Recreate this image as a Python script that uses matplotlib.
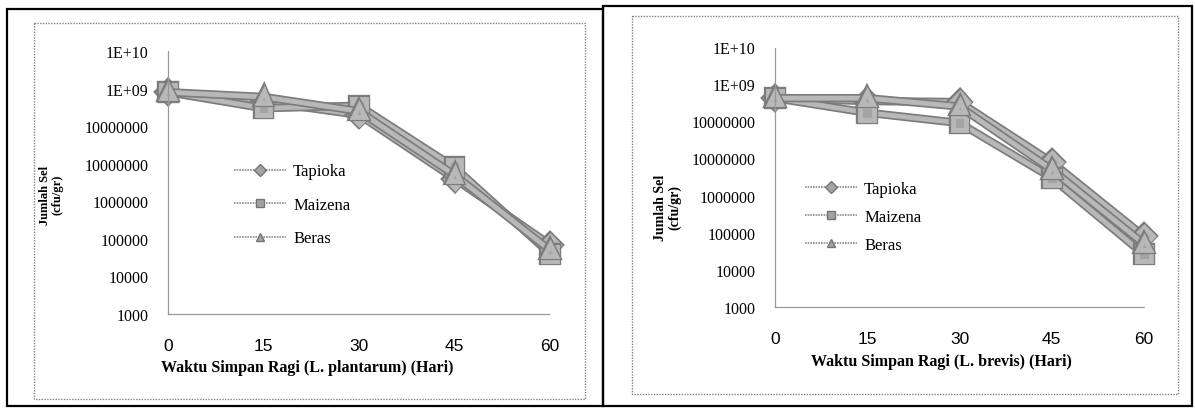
import matplotlib
matplotlib.use("Agg")
import matplotlib.pyplot as plt
import matplotlib.patheffects as pe
from matplotlib.lines import Line2D
from matplotlib.patches import Rectangle

# ---------------- data ----------------
days = [0, 15, 30, 45, 60]
series_names = ["Tapioka", "Maizena", "Beras"]

# L. plantarum (left panel)
tapioka_plantarum = [8.0e8, 4.5e8, 2.0e8, 4.0e6, 7.0e4]
maizena_plantarum = [8.0e8, 3.0e8, 3.5e8, 8.0e6, 4.0e4]
beras_plantarum = [8.0e8, 6.0e8, 2.5e8, 5.0e6, 5.0e4]

# L. brevis (right panel)
tapioka_brevis = [4.2e8, 3.5e8, 3.3e8, 8.0e6, 8.0e4]
maizena_brevis = [4.2e8, 1.7e8, 9.0e7, 3.0e6, 2.6e4]
beras_brevis = [4.2e8, 4.2e8, 2.5e8, 5.0e6, 5.0e4]

y_ticks = [1e3, 1e4, 1e5, 1e6, 1e7, 1e8, 1e9, 1e10]
y_tick_labels = ["1000", "10000", "100000", "1000000", "10000000",
                 "10000000", "1E+09", "1E+10"]
x_tick_labels = ["0", "15", "30", "45", "60"]

xlabel_left = "Waktu Simpan Ragi (L. plantarum) (Hari)"
xlabel_right = "Waktu Simpan Ragi (L. brevis) (Hari)"
ylabel_text = "Jumlah Sel\n(cfu/gr)"

# ---------------- figure ----------------
W, H = 1195, 410
fig = plt.figure(figsize=(W / 100, H / 100), dpi=100)
fig.patch.set_facecolor("white")

SERIF = "Liberation Serif"
SANS = "Liberation Sans"


def px_axes(x0, y0, x1, y1):
    return fig.add_axes([x0 / W, 1 - y1 / H, (x1 - x0) / W, (y1 - y0) / H])


# overlay for frames
ov = fig.add_axes([0, 0, 1, 1], zorder=-5)
ov.set_xlim(0, W)
ov.set_ylim(H, 0)
ov.axis("off")
# outer black frames
ov.add_patch(Rectangle((7, 10), 596, 397, fill=False, ec="black", lw=1.6))
ov.add_patch(Rectangle((603, 7), 589, 400, fill=False, ec="black", lw=1.6))
# inner dotted chart-area borders
ov.add_patch(Rectangle((34, 24), 551, 376, fill=False, ec="#808080",
                       lw=1.0, ls=(0, (1, 1))))
ov.add_patch(Rectangle((632, 17), 546, 378, fill=False, ec="#808080",
                       lw=1.0, ls=(0, (1, 1))))

markers = ["D", "s", "^"]
marker_sizes = [9, 10, 8.5]
line_fx = [pe.Stroke(linewidth=6, foreground="#7c7c7c"),
           pe.Stroke(linewidth=3.5, foreground="#b8b8b8")]


def draw_panel(ax, data, xlabel, xlabel_cx, ylab_xy, ylab_fs, leg_anchor,
               leg_spacing, ypad, xpad, xlab_y):
    for vals, m, ms, name in zip(data, markers, marker_sizes, series_names):
        ax.plot(days, vals, color="#a8a8a8", lw=5, marker=m, ms=ms,
                mfc="#a4a4a4", mec="#747474", mew=1.0,
                path_effects=line_fx, solid_capstyle="round",
                solid_joinstyle="round", clip_on=False)
    ax.set_yscale("log")
    ax.set_ylim(1e3, 1e10)
    ax.set_xlim(0, 60)
    ax.set_yticks(y_ticks)
    ax.set_yticklabels(y_tick_labels, fontfamily=SERIF, fontsize=11.5)
    ax.minorticks_off()
    ax.set_xticks(days)
    ax.set_xticklabels(x_tick_labels, fontfamily=SANS, fontsize=12.5)
    ax.tick_params(axis="both", length=0)
    ax.tick_params(axis="y", pad=ypad)
    ax.tick_params(axis="x", pad=xpad)
    for s in ["top", "right"]:
        ax.spines[s].set_visible(False)
    for s in ["left", "bottom"]:
        ax.spines[s].set_color("#999999")
        ax.spines[s].set_linewidth(0.9)
        ax.spines[s].set_linestyle((0, (1, 1)))
    ax.set_facecolor("none")
    fig.text(xlabel_cx / W, 1 - xlab_y / H, xlabel, ha="center",
             va="center", fontfamily=SERIF, fontweight="bold", fontsize=11.5)
    fig.text(ylab_xy[0] / W, 1 - ylab_xy[1] / H, ylabel_text, rotation=90,
             ha="center", va="center", fontfamily=SERIF, fontweight="bold",
             fontsize=ylab_fs, multialignment="center", linespacing=1.1)
    handles = [Line2D([], [], color="#8c8c8c", lw=1.2, ls=(0, (1, 0.6)),
                      marker=m, ms=6, mfc="#a4a4a4", mec="#747474")
               for m in markers]
    ax.legend(handles, series_names, loc="center left",
              bbox_to_anchor=(leg_anchor[0] / W, 1 - leg_anchor[1] / H),
              bbox_transform=fig.transFigure, frameon=False,
              prop={"family": SERIF, "size": 12}, handlelength=3.1,
              handletextpad=0.45, labelspacing=leg_spacing,
              borderpad=0, borderaxespad=0)


ax1 = px_axes(168, 52, 550, 315)
draw_panel(ax1, [tapioka_plantarum, maizena_plantarum, beras_plantarum],
           xlabel_left, 307, (51, 195), 9, (234, 206), 1.05, 14, 17, 368)

ax2 = px_axes(775, 48, 1144, 308)
draw_panel(ax2, [tapioka_brevis, maizena_brevis, beras_brevis],
           xlabel_right, 941, (668, 208), 10, (805, 218), 0.72, 14, 17, 362)

fig.savefig("out.png", dpi=100, facecolor="white")
